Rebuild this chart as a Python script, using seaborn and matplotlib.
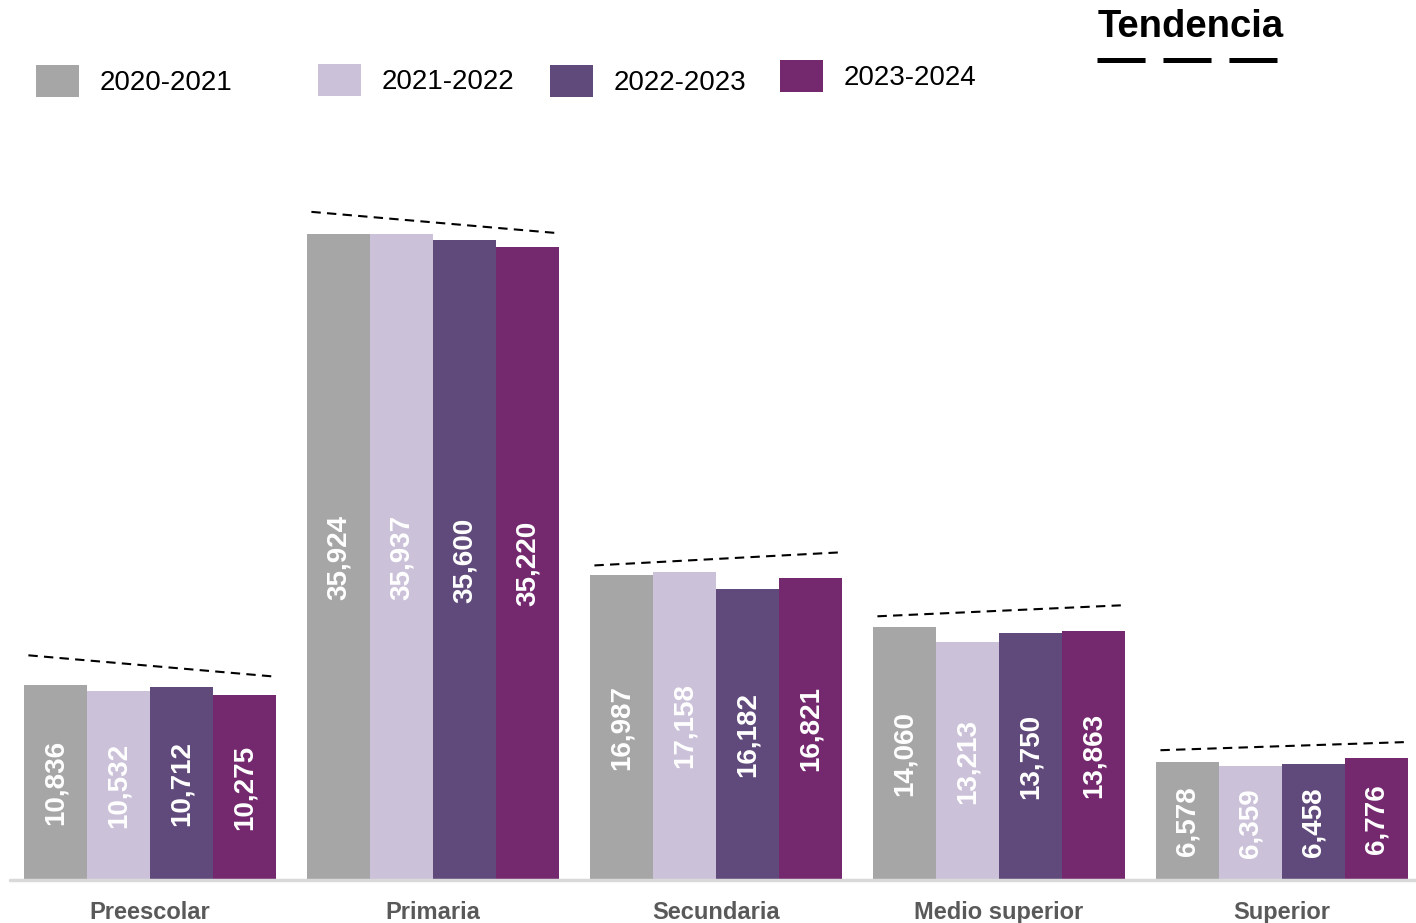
import numpy as np
import pandas as pd
import matplotlib.pyplot as plt
import seaborn as sns
from matplotlib.lines import Line2D

# data
levels = ['Preescolar', 'Primaria', 'Secundaria', 'Medio superior', 'Superior']
years = ['2020-2021', '2021-2022', '2022-2023', '2023-2024']
v2020 = [10836, 35924, 16987, 14060, 6578]
v2021 = [10532, 35937, 17158, 13213, 6359]
v2022 = [10712, 35600, 16182, 13750, 6458]
v2023 = [10275, 35220, 16821, 13863, 6776]
# dashed "tendencia" line per group (start / end value)
trend_start = [12500, 37170, 17500, 14670, 7220]
trend_end = [11330, 36000, 18220, 15280, 7670]

colors = ['#A6A6A6', '#CBC1D9', '#604A7B', '#74296F']

# styles
sns.set_style('white')
plt.rcParams['font.family'] = ['Liberation Sans', 'DejaVu Sans']
label_gray = '#595959'

df = pd.DataFrame({
    'nivel': np.repeat(levels, len(years)),
    'ciclo': years * len(levels),
    'alumnos': np.array([v2020, v2021, v2022, v2023]).T.ravel(),
})

fig = plt.figure(figsize=(14.16, 9.23), dpi=100)
ax = fig.add_axes([10 / 1416, 43 / 923, 1 - 10 / 1416, 0.779])

sns.barplot(data=df, x='nivel', y='alumnos', hue='ciclo', order=levels,
            hue_order=years, palette=colors, width=0.89, gap=0,
            saturation=1, errorbar=None, legend=False, linewidth=0,
            ax=ax)

for cont in ax.containers:
    vals = cont.datavalues
    ax.bar_label(cont, labels=[f'{v:,.0f}' for v in vals],
                 label_type='center', rotation=90, color='white',
                 fontweight='bold', fontsize=20)

# trend lines
for i, (s, e) in enumerate(zip(trend_start, trend_end)):
    ax.plot([i - 0.43, i + 0.43], [s, e], color='black', lw=1.5,
            ls=(0, (4.5, 3)))

ax.set_xlim(-0.495, 4.473)
ax.set_ylim(0, 40000)
ax.axhline(0, color='#D9D9D9', lw=2.5, clip_on=False)
sns.despine(ax=ax, left=True, bottom=True, top=True, right=True)
ax.set_yticks([])
ax.set_xlabel('')
ax.set_ylabel('')
ax.tick_params(axis='x', length=0, pad=15)
for lab in ax.get_xticklabels():
    lab.set_fontweight('bold')
    lab.set_fontsize(17)
    lab.set_color(label_gray)

# legend, one entry at a time to keep the uneven spacing
handles = [cont.patches[0] for cont in ax.containers]
legend_pos = [(36, 81), (318, 80), (550, 81), (780, 76)]
for h, lab, (px, py) in zip(handles, years, legend_pos):
    leg = fig.legend([h], [lab], loc='center left',
                     bbox_to_anchor=(px / 1416, 1 - py / 923),
                     frameon=False, borderpad=0, borderaxespad=0,
                     handlelength=1.55, handleheight=1.4,
                     handletextpad=0.75, fontsize=20)
    for t in leg.get_texts():
        t.set_color('black')

# "Tendencia" key
fig.text(1098 / 1416, 1 - 27 / 923, 'Tendencia', fontsize=27.5,
         fontweight='bold', color='black', ha='left', va='center')
lw = 3.6
fig.add_artist(Line2D([1097 / 1416, 1277 / 1416], [1 - 60 / 923] * 2,
                      transform=fig.transFigure, color='black', lw=lw,
                      dashes=(34.6 / lw, 12.9 / lw), solid_capstyle='butt',
                      dash_capstyle='butt'))

fig.savefig('out.png', dpi=100)
